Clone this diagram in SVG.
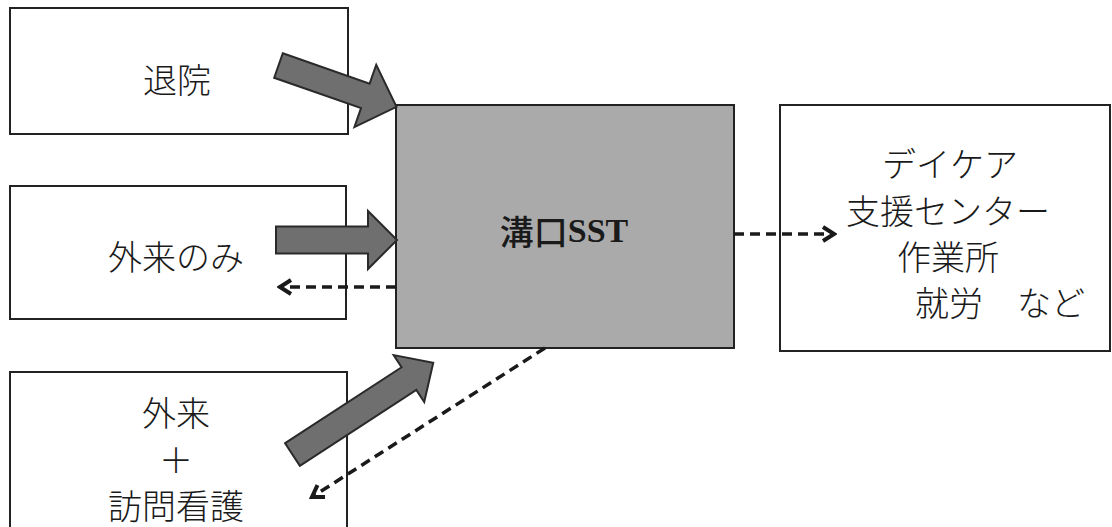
<svg xmlns="http://www.w3.org/2000/svg" width="1112" height="527" viewBox="0 0 1112 527">
<defs>
<style>
.box{fill:#fff;stroke:#222;stroke-width:2}
.core{fill:#aaaaaa;stroke:#222;stroke-width:2}
.t{font-family:"Noto Sans CJK JP","Noto Sans CJK SC",sans-serif;font-size:34px;fill:#1a1a1a;text-anchor:middle;dominant-baseline:central;font-weight:300}
.blk{fill:#6f6f6f;stroke:#2a2a2a;stroke-width:2;stroke-linejoin:miter}
.dash{fill:none;stroke:#1a1a1a;stroke-width:3.5;stroke-dasharray:10 6}
</style>
<marker id="chev" markerUnits="userSpaceOnUse" markerWidth="20" markerHeight="20" viewBox="0 0 20 20" refX="17" refY="10" orient="auto">
<path d="M6,3 L17,10 L6,17" fill="none" stroke="#1a1a1a" stroke-width="4" stroke-linejoin="miter"/>
</marker>
</defs>
<rect width="1112" height="527" fill="#fff"/>

<g id="node-taiin">
<rect class="box" x="10" y="8" width="338" height="126"/>
<text class="t" x="177" y="78">退院</text>
</g>
<g id="node-gairai-nomi">
<rect class="box" x="10" y="186" width="336" height="133"/>
<text class="t" x="176" y="255">外来のみ</text>
</g>
<g id="node-gairai-houmon">
<rect class="box" x="10" y="372" width="337" height="170"/>
<text class="t" x="176" y="411">外来</text>
<text class="t" x="176" y="458">＋</text>
<text class="t" x="176" y="504">訪問看護</text>
</g>
<g id="node-sst">
<rect class="core" x="396" y="105" width="338" height="243"/>
<text class="t" x="564" y="230" style="font-weight:500">溝口<tspan font-family="Liberation Serif, serif" font-weight="bold">SST</tspan></text>
</g>
<g id="node-daycare">
<rect class="box" x="780" y="105" width="330" height="246"/>
<text class="t" x="950" y="162">デイケア</text>
<text class="t" x="948" y="209">支援センター</text>
<text class="t" x="948" y="255">作業所</text>
<text class="t" x="1000" y="301">就労　など</text>
</g>

<g id="connectors">
<polygon class="blk" transform="translate(278.5,65.5) rotate(19.3)" points="0,-13 92,-13 92,-33 125,0 92,33 92,13 0,13"/>
<polygon class="blk" transform="translate(276,240)" points="0,-13.5 92,-13.5 92,-29 121,0 92,29 92,13.5 0,13.5"/>
<polygon class="blk" transform="translate(292.5,454.5) rotate(-33.1)" points="0,-13.5 139,-13.5 139,-28 168,0 139,28 139,13.5 0,13.5"/>
<line class="dash" x1="396" y1="287" x2="280" y2="287" marker-end="url(#chev)"/>
<line class="dash" x1="734" y1="234" x2="834" y2="234" marker-end="url(#chev)"/>
<line class="dash" x1="545" y1="348" x2="312" y2="497" marker-end="url(#chev)"/>
</g>
</svg>
